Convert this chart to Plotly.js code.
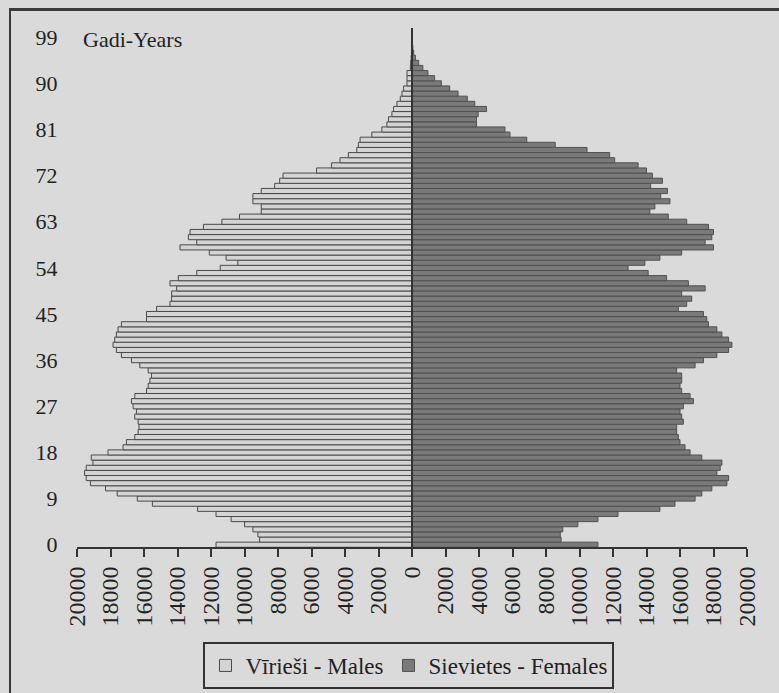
<!DOCTYPE html>
<html>
<head>
<meta charset="utf-8">
<script src="https://cdn.plot.ly/plotly-3.0.1.min.js"></script>
<style>
  html, body { margin: 0; padding: 0; background: #dadada; }
  #wrap { position: relative; width: 779px; height: 693px; overflow: hidden; }
  #chart { width: 779px; height: 693px; }
  #frame { position: absolute; left: 9px; top: 8px; width: 800px; height: 720px;
           border-left: 2px solid #3a3a3a; border-top: 3px solid #3a3a3a; pointer-events: none; z-index: 10; }
</style>
</head>
<body>
<div id="wrap">
<div id="chart"></div>
<div id="frame"></div>
</div>
<script>
// Ages 0..97
const ages = Array.from({length: 98}, (_, i) => i);

const males = [
  11700, 9100, 9200, 9500, 10000, 10800, 11700, 12800, 15500, 16400,
  17600, 18300, 19200, 19450, 19550, 19450, 19050, 19150, 18150, 17250,
  17050, 16550, 16350, 16300, 16350, 16550, 16450, 16650, 16750, 16550,
  15850, 15750, 15650, 15550, 15750, 16250, 16750, 17350, 17650, 17850,
  17750, 17650, 17550, 17350, 15850, 15850, 15250, 14450, 14350, 14350,
  14050, 14450, 13950, 12850, 11450, 10400, 11100, 12100, 13850, 12850,
  13350, 13250, 12450, 11350, 10300, 9000, 9000, 9500, 9500, 9000,
  8200, 7900, 7700, 5700, 4800, 4300, 3800, 3300, 3200, 3100,
  2400, 1800, 1500, 1400, 1200, 1100, 900, 700, 600, 500,
  300, 300, 300, 100, 80, 50, 30, 20
];

const females = [
  11100, 8900, 8850, 9000, 9900, 11100, 12300, 14800, 15700, 16900,
  17300, 17900, 18800, 18900, 18200, 18400, 18500, 17300, 16600, 16300,
  16000, 15900, 15800, 15800, 16200, 16100, 16000, 16200, 16800, 16600,
  16100, 16000, 16100, 16100, 15800, 16900, 17400, 18200, 18900, 19100,
  18900, 18500, 18200, 17700, 17600, 17400, 15900, 16400, 16700, 16100,
  17500, 16500, 15200, 14100, 12900, 13900, 14800, 16100, 18000, 17500,
  17900, 18000, 17700, 16400, 15300, 14200, 14500, 15400, 14850, 15250,
  14250, 14950, 14350, 14000, 13500, 12100, 11800, 10450, 8550, 6850,
  5850, 5550, 3850, 3850, 3950, 4450, 3750, 3300, 2750, 2250,
  1750, 1350, 950, 650, 400, 200, 100, 50
];

const xTickVals = [-20000,-18000,-16000,-14000,-12000,-10000,-8000,-6000,-4000,-2000,0,
                   2000,4000,6000,8000,10000,12000,14000,16000,18000,20000];
const xTickText = ["20000","18000","16000","14000","12000","10000","8000","6000","4000","2000","0",
                   "2000","4000","6000","8000","10000","12000","14000","16000","18000","20000"];
const yTickVals = [0, 9, 18, 27, 36, 45, 54, 63, 72, 81, 90, 99];

const maleName = "Vīrieši - Males";
const femaleName = "Sievietes - Females";
const yTitle = "Gadi-Years";

const FONT = "'Liberation Serif', 'Times New Roman', serif";
const INK = "#222";

const traces = [
  {
    type: 'bar', orientation: 'h', name: maleName,
    y: ages, x: males.map(v => -v),
    marker: { color: '#d4d4d4', line: { color: '#4a4a4a', width: 1 } },
    hoverinfo: 'skip'
  },
  {
    type: 'bar', orientation: 'h', name: femaleName,
    y: ages, x: females,
    marker: { color: '#7a7a7a', line: { color: '#505050', width: 1 } },
    hoverinfo: 'skip'
  }
];

const layout = {
  width: 779, height: 693,
  margin: { l: 77, r: 32, t: 28, b: 146, autoexpand: false },
  paper_bgcolor: '#dadada',
  plot_bgcolor: '#dadada',
  barmode: 'relative',
  bargap: 0,
  showlegend: true,
  font: { family: FONT, color: INK, size: 21 },
  xaxis: {
    range: [-20000, 20000],
    tickvals: xTickVals, ticktext: xTickText,
    tickangle: -90,
    automargin: false,
    ticks: 'outside', ticklen: 8, tickwidth: 2, tickcolor: '#333',
    showline: true, linecolor: '#333', linewidth: 2,
    showgrid: false, zeroline: false,
    tickfont: { family: FONT, size: 24, color: INK }
  },
  yaxis: {
    range: [-0.45, 100.8],
    tickvals: yTickVals,
    automargin: false,
    ticks: 'outside', ticklen: 14, tickcolor: 'rgba(0,0,0,0)',
    showline: false, showgrid: false, zeroline: false,
    tickfont: { family: FONT, size: 22, color: INK }
  },
  legend: {
    orientation: 'h',
    x: 0.4955, xanchor: 'center',
    y: -0.183, yanchor: 'top',
    bgcolor: 'rgba(0,0,0,0)',
    bordercolor: '#333', borderwidth: 2,
    font: { family: FONT, size: 23, color: INK },
    itemwidth: 30,
    traceorder: 'normal'
  },
  annotations: [
    { text: yTitle, xref: 'paper', yref: 'paper', x: 0.006, y: 0.977,
      xanchor: 'left', yanchor: 'middle', showarrow: false,
      font: { family: FONT, size: 22, color: INK } }
  ],
  shapes: [
    { type: 'line', xref: 'x', yref: 'paper', x0: 0, x1: 0, y0: 0, y1: 1,
      line: { color: '#333', width: 2 } }
  ]
};

Plotly.newPlot('chart', traces, layout, { displayModeBar: false, staticPlot: true });
</script>
</body>
</html>
